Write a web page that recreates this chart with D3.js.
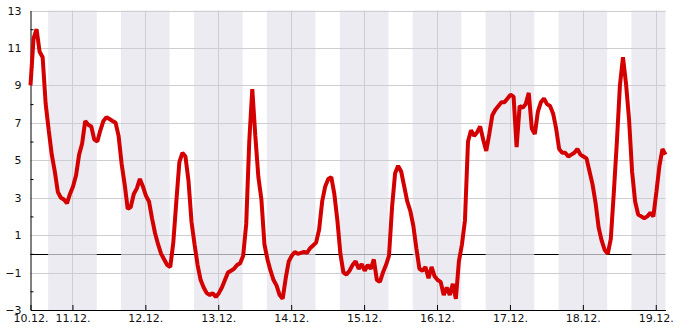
<!DOCTYPE html>
<html>
<head>
<meta charset="utf-8">
<script src="https://cdn.jsdelivr.net/npm/d3@7"></script>
<style>
  body { margin: 0; background: #fff; }
  text { font-family: "DejaVu Sans", sans-serif; }
</style>
</head>
<body>
<script>
// hourly readings, first one at 10.12. 10:12
const startTime = new Date(2012, 11, 10, 10, 12)
const temps = [
  9.0, 11.5, 12.0, 10.8, 10.5, 8.0, 6.6, 5.3, 4.4, 3.3,
  3.0, 2.9, 2.7, 3.2, 3.6, 4.2, 5.3, 5.9, 7.1, 6.9,
  6.8, 6.1, 6.0, 6.6, 7.1, 7.3, 7.2, 7.1, 7.0, 6.3,
  4.8, 3.7, 2.4, 2.5, 3.2, 3.5, 4.0, 3.6, 3.1, 2.8,
  1.9, 1.1, 0.5, 0.0, -0.3, -0.6, -0.7, 0.6, 2.8, 4.9,
  5.4, 5.2, 3.9, 1.7, 0.5, -0.6, -1.4, -1.8, -2.1, -2.2,
  -2.1, -2.3, -2.1, -1.8, -1.4, -1.0, -0.9, -0.8, -0.6, -0.5,
  -0.1, 1.6, 6.0, 8.8, 6.3, 4.1, 2.9, 0.5, -0.3, -0.9,
  -1.4, -1.7, -2.2, -2.4, -1.3, -0.4, -0.1, 0.1, 0.0, 0.05,
  0.1, 0.05, 0.3, 0.45, 0.6, 1.3, 2.8, 3.6, 4.0, 4.1,
  3.2, 1.8, 0.0, -1.0, -1.1, -0.9, -0.6, -0.4, -0.8, -0.55,
  -0.9, -0.6, -0.8, -0.3, -1.4, -1.5, -1.0, -0.6, -0.1, 2.5,
  4.3, 4.7, 4.4, 3.6, 2.8, 2.3, 1.5, 0.3, -0.8, -0.9,
  -0.7, -1.3, -0.7, -1.2, -1.4, -1.5, -2.2, -1.8, -2.2, -1.6,
  -2.4, -0.4, 0.5, 1.8, 6.0, 6.6, 6.3, 6.5, 6.8, 6.1,
  5.5, 6.4, 7.4, 7.7, 7.9, 8.1, 8.1, 8.3, 8.5, 8.4,
  5.7, 7.9, 7.8, 8.0, 8.6, 6.7, 6.4, 7.6, 8.1, 8.3,
  8.0, 7.9, 7.5, 6.7, 5.6, 5.4, 5.4, 5.2, 5.3, 5.4,
  5.6, 5.3, 5.2, 5.1, 4.4, 3.7, 2.7, 1.4, 0.7, 0.2,
  0.0, 0.8, 3.3, 6.0, 9.0, 10.5, 9.1, 7.2, 4.4, 2.8,
  2.1, 2.0, 1.9, 2.0, 2.2, 2.0, 3.3, 4.7, 5.6, 5.3
]
const yLabels = [-3, -1, 1, 3, 5, 7, 9, 11, 13]
const yMinor = [-2, 0, 2, 4, 6, 8, 10, 12]
const days = ['10.12.', '11.12.', '12.12.', '13.12.', '14.12.', '15.12.', '16.12.', '17.12.', '18.12.', '19.12.']
// night shading: from 16:00 of one day to 08:00 of the next
const nightFrom = ['10.12. 16:00', '11.12. 16:00', '12.12. 16:00', '13.12. 16:00', '14.12. 16:00', '15.12. 16:00', '16.12. 16:00', '17.12. 16:00', '18.12. 16:00']
const nightTo = ['11.12. 08:00', '12.12. 08:00', '13.12. 08:00', '14.12. 08:00', '15.12. 08:00', '16.12. 08:00', '17.12. 08:00', '18.12. 08:00', '19.12. 08:00']

const w = 685
const h = 330
const padLeft = 30.5
const padRight = 665.5
const padTop = 10.5
const padBottom = 310

const parseDay = d3.timeParse('%d.%m.%Y')
const parseStamp = d3.timeParse('%d.%m. %H:%M %Y')
const data = temps.map((v, i) => ({ date: d3.timeHour.offset(startTime, i), value: v }))
const dayDates = days.map(d => parseDay(d + '2012'))
const nights = nightFrom.map((s, i) => ({ from: parseStamp(s + ' 2012'), to: parseStamp(nightTo[i] + ' 2012') }))

const svg = d3.select('body')
  .append('svg')
  .attr('width', w)
  .attr('height', h)

const xScale = d3.scaleTime()
  .domain(d3.extent(data, d => d.date))
  .range([padLeft, padRight])
const yScale = d3.scaleLinear()
  .domain([-3, 13])
  .range([padBottom, padTop])

const [x0, x1] = xScale.domain()
const clampX = d => xScale(new Date(Math.min(Math.max(d, x0), x1)))

// night bands
svg.append('g')
  .selectAll('rect')
  .data(nights)
  .enter()
  .append('rect')
  .attr('x', d => clampX(d.from))
  .attr('y', padTop)
  .attr('width', d => clampX(d.to) - clampX(d.from))
  .attr('height', padBottom - padTop)
  .attr('fill', '#ebebf1')

// grid
svg.append('g')
  .selectAll('line')
  .data(yLabels)
  .enter()
  .append('line')
  .attr('x1', padLeft).attr('x2', padRight)
  .attr('y1', d => Math.round(yScale(d)) + 0.5)
  .attr('y2', d => Math.round(yScale(d)) + 0.5)
  .attr('stroke', '#cdcdd2')
svg.append('g')
  .selectAll('line')
  .data(dayDates.slice(1))
  .enter()
  .append('line')
  .attr('x1', d => Math.round(xScale(d)) + 0.5)
  .attr('x2', d => Math.round(xScale(d)) + 0.5)
  .attr('y1', padTop).attr('y2', padBottom)
  .attr('stroke', '#cdcdd2')

// zero line: grey over the night bands, black in daytime
const zeroY = Math.round(yScale(0)) + 0.5
svg.append('line')
  .attr('x1', padLeft).attr('x2', padRight)
  .attr('y1', zeroY).attr('y2', zeroY)
  .attr('stroke', '#a3a3aa')
const dayParts = [{ from: x0, to: nights[0].from }].concat(
  nights.map((n, i) => ({ from: n.to, to: i + 1 < nights.length ? nights[i + 1].from : x1 })))
svg.append('g')
  .selectAll('line')
  .data(dayParts.filter(d => d.from < d.to))
  .enter()
  .append('line')
  .attr('x1', d => clampX(d.from))
  .attr('x2', d => clampX(d.to))
  .attr('y1', zeroY).attr('y2', zeroY)
  .attr('stroke', '#000')

// axes
const xAxis = d3.axisBottom(xScale)
  .tickValues([x0].concat(dayDates.slice(1)))
  .tickFormat((d, i) => days[i])
  .tickSizeInner(-5)
  .tickSizeOuter(0)
  .tickPadding(4)
const yAxis = d3.axisLeft(yScale)
  .tickValues(yLabels)
  .tickFormat(d3.format('d'))
  .tickSize(0)
  .tickPadding(9)
const yMinorAxis = d3.axisLeft(yScale)
  .tickValues(yMinor)
  .tickFormat('')
  .tickSizeInner(-3)
  .tickSizeOuter(0)

const gx = svg.append('g')
  .attr('transform', 'translate(0,' + padBottom + ')')
  .call(xAxis)
gx.selectAll('text').attr('font-size', 11).attr('fill', '#111').attr('font-family', 'DejaVu Sans')
gx.select('.domain').attr('stroke', '#000')

const gy = svg.append('g')
  .attr('transform', 'translate(' + padLeft + ',0)')
  .call(yAxis)
gy.selectAll('text').attr('font-size', 11).attr('fill', '#111').attr('font-family', 'DejaVu Sans')
svg.append('g')
  .attr('transform', 'translate(' + padLeft + ',0)')
  .call(yMinorAxis)
  .select('.domain').remove()

// temperature line
const line = d3.line()
  .x(d => xScale(d.date))
  .y(d => yScale(d.value))
svg.append('path')
  .datum(data)
  .attr('d', line)
  .attr('fill', 'none')
  .attr('stroke', '#d40000')
  .attr('stroke-width', 4)
  .attr('stroke-linejoin', 'bevel')
</script>
</body>
</html>
